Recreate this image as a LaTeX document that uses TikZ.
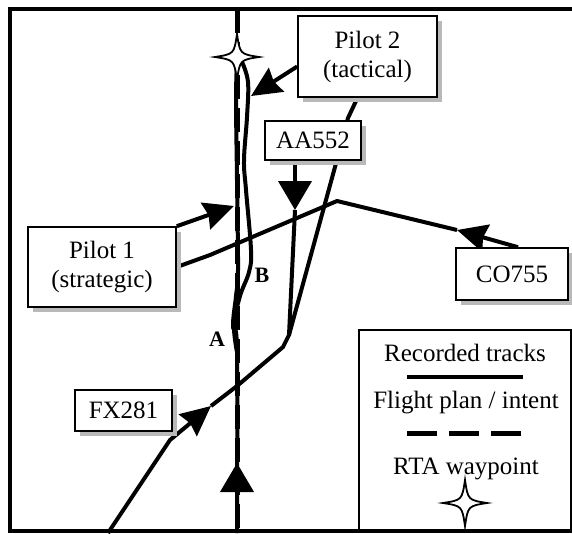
\documentclass[tikz,border=0pt]{standalone}
\usepackage{fontspec}
\setmainfont{Liberation Serif}
\usetikzlibrary{arrows.meta,shadows,backgrounds}
\begin{document}
\begin{tikzpicture}[x=1pt,y=-1pt,
  track/.style={line width=4pt, line join=round},
  plan/.style={line width=5pt, dash pattern=on 24pt off 9pt},
  box/.style={draw, line width=1.6pt, fill=white, inner sep=0pt, align=center,
    font=\fontsize{25}{29}\selectfont,
    drop shadow={shadow xshift=5pt, shadow yshift=-5pt, fill=gray!55, opacity=1}},
  lab/.style={font=\fontsize{22}{24}\selectfont\bfseries},
  legtext/.style={font=\fontsize{25}{29}\selectfont, anchor=base},
  stl/.style={-{Stealth[length=30pt 0 0,width=28pt 0 0,inset=3pt 0]}},
  tri/.style={-{Triangle[length=29pt 0 0,width=33pt 0 0]}},
  rtastar/.pic={\draw[line width=1.8pt, fill=white]
     (0,-23) .. controls (3,-3) .. (22,0) .. controls (3,3) .. (0,23)
     .. controls (-3,3) .. (-22,0) .. controls (-3,-3) .. cycle;}
]
\useasboundingbox (0,0) rectangle (572,533);

% boxes
\node[box, minimum width=139pt, minimum height=81pt] (p2) at (367.5,56.5) {Pilot 2\\(tactical)};
\node[box, minimum width=148pt, minimum height=80pt] (p1) at (102,267) {Pilot 1\\(strategic)};
\node[box, minimum width=96pt, minimum height=39pt] (aa) at (313,140.5) {AA552};
\node[box, minimum width=97pt, minimum height=41pt] (fx) at (123.5,410.5) {FX281};
\node[box, minimum width=112pt, minimum height=52pt] (co) at (512,274) {CO755};

% named points
\coordinate (wp) at (237,57);
\coordinate (fxtip) at (211,406);
\coordinate (aatip) at (295,210);
\coordinate (cotip) at (457,230);
\coordinate (p1tip) at (234,206);
\coordinate (p2tip) at (251,96);
\coordinate (merge) at (289,335);

\begin{pgfonlayer}{background}
% frame
\draw[line width=4pt] (572,9) -- (10,9) -- (10,531) -- (572,531);
% flight plan
\draw[plan] (237,9) -- (237,533);
% recorded tracks of pilot 1 and pilot 2
\draw[track] plot[smooth, tension=0.6] coordinates {(237,533) (237,350) (233,326) (236,296) (238,270) (237,180) (236,100) (237,62)};
\draw[track] plot[smooth, tension=0.6] coordinates {(237,352) (234,325) (240,296) (249,272) (251,250) (246,190) (244,160) (247,117) (248,82) (242,62)};
\draw[line width=4pt, tri] (237,500) -- (237,463);
% FX281
\draw[track, stl] (108,533) -- (170,440) -- (fxtip);
\draw[track] (fxtip) -- (237,386) -- (283,347) -- (merge) -- (335,167) -- (348,118) -- ([xshift=-10pt]p2.south);
% AA552
\draw[track, tri] (aa.south -| aatip) -- (aatip);
\draw[track] (aatip) -- (merge);
% CO755
\draw[track, stl] ([xshift=6pt]co.north) -- (cotip);
\draw[track] (cotip) -- (337,201) -- (210,255) -- (p1.east);
\end{pgfonlayer}

% pilot arrows
\draw[track, stl] (p1.north east) -- (p1tip);
\draw[track, stl] ([yshift=-10pt]p2.west) -- (p2tip);

% waypoint
\pic at (wp) {rtastar};

% labels
\node[lab] (la) at (217,339) {A};
\node[lab] (lb) at (262,275) {B};

% legend
\node[draw, line width=2pt, minimum width=212pt, minimum height=201pt] (leg) at (465,430.5) {};
\node[legtext] (l1) at (465,361) {Recorded tracks};
\draw[line width=4pt] (407,377) -- (523,377);
\node[legtext] (l2) at (466,408) {Flight plan / intent};
\draw[line width=5pt, dash pattern=on 30pt off 12pt] (407,433) -- (522,433);
\node[legtext] (l3) at (466,474) {RTA waypoint};
\coordinate (legstar) at (465,503);
\pic at (legstar) {rtastar};
\end{tikzpicture}
\end{document}
